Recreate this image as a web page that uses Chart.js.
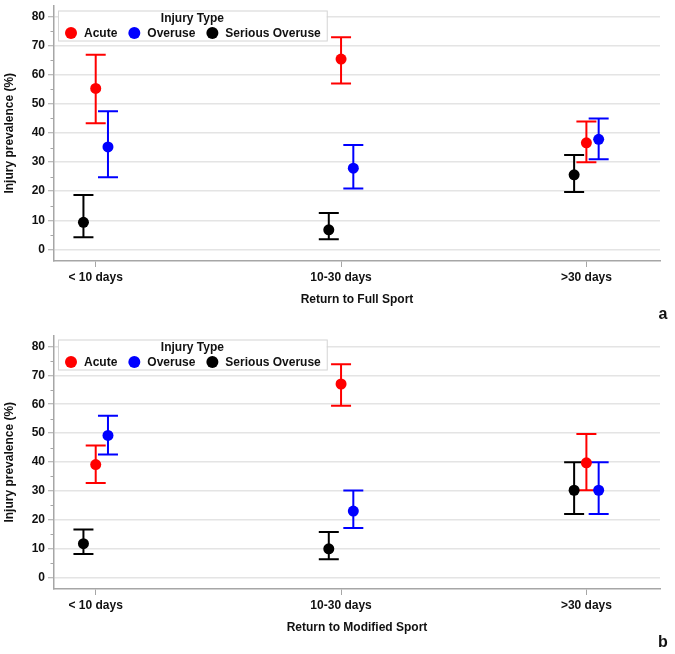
<!DOCTYPE html>
<html>
<head>
<meta charset="utf-8">
<script src="https://cdn.jsdelivr.net/npm/chart.js@4/dist/chart.umd.min.js"></script>
<style>
  html, body { margin: 0; padding: 0; background: #ffffff; }
  #wrap { position: relative; width: 675px; height: 654px; background: #fff; }
  #c1 { position: absolute; left: 0; top: 0; }
  #c2 { position: absolute; left: 0; top: 330px; }
</style>
</head>
<body>
<div id="wrap">
  <canvas id="c1" width="675" height="330"></canvas>
  <canvas id="c2" width="675" height="324"></canvas>
</div>
<script>
// ---------- data ----------
const categories = ['< 10 days', '10-30 days', '>30 days'];
const seriesNames = ['Acute', 'Overuse', 'Serious Overuse'];
const yTickValues = [0, 5, 10, 15, 20, 25, 30, 35, 40, 45, 50, 55, 60, 65, 70, 75, 80];
const panelLabels = ['a', 'b'];
const xTitles = ['Return to Full Sport', 'Return to Modified Sport'];
const yTitle = 'Injury prevalence (%)';
const legendTitle = 'Injury Type';

// Panel a: Return to Full Sport
const fullAcute      = [55.3, 65.4, 36.6];
const fullAcuteLow   = [43.3, 57.0, 29.9];
const fullAcuteHigh  = [66.9, 72.9, 43.9];
const fullOveruse     = [35.2, 27.9, 37.8];
const fullOveruseLow  = [24.8, 20.9, 31.0];
const fullOveruseHigh = [47.5, 35.9, 45.0];
const fullSerious     = [9.3, 6.7, 25.6];
const fullSeriousLow  = [4.2, 3.5, 19.7];
const fullSeriousHigh = [18.7, 12.5, 32.4];

// Panel b: Return to Modified Sport
const modAcute      = [39.1, 67.0, 39.7];
const modAcuteLow   = [32.7, 59.5, 30.2];
const modAcuteHigh  = [45.7, 73.8, 49.7];
const modOveruse     = [49.2, 23.0, 30.2];
const modOveruseLow  = [42.6, 17.1, 22.0];
const modOveruseHigh = [56.0, 30.1, 39.9];
const modSerious     = [11.7, 9.9, 30.2];
const modSeriousLow  = [8.1, 6.3, 22.0];
const modSeriousHigh = [16.6, 15.7, 39.9];

// ---------- styles ----------
const seriesColors = ['#ff0000', '#0000ff', '#000000'];
const seriesOffsets = [0, 0.05, -0.05];
const FONT = '"Liberation Sans", Arial, sans-serif';
const TEXT = '#111111';
const AXIS = '#a6a6a6';
const GRID = '#e4e4e4';

const isMajor = (v) => v % 10 === 0;

const errorBarPlugin = {
  id: 'errorBars',
  beforeDatasetsDraw(chart) {
    const ctx = chart.ctx;
    const xs = chart.scales.x, ys = chart.scales.y;
    ctx.save();
    chart.data.datasets.forEach((ds) => {
      ctx.strokeStyle = ds.borderColor;
      ctx.lineWidth = 2;
      ds.data.forEach((p, i) => {
        const x = xs.getPixelForValue(p.x);
        const yl = ys.getPixelForValue(ds.errLow[i]);
        const yh = ys.getPixelForValue(ds.errHigh[i]);
        ctx.beginPath();
        ctx.moveTo(x, yl); ctx.lineTo(x, yh);
        ctx.moveTo(x - 10, yl); ctx.lineTo(x + 10, yl);
        ctx.moveTo(x - 10, yh); ctx.lineTo(x + 10, yh);
        ctx.stroke();
      });
    });
    ctx.restore();
  }
};

const minorTickPlugin = {
  id: 'minorTicks',
  afterDraw(chart) {
    const ctx = chart.ctx;
    const ys = chart.scales.y;
    const x0 = chart.chartArea.left;
    ctx.save();
    ctx.strokeStyle = AXIS;
    ctx.lineWidth = 1;
    ys.ticks.forEach((t) => {
      if (isMajor(t.value)) return;
      const y = Math.round(ys.getPixelForValue(t.value)) + 0.5;
      ctx.beginPath();
      ctx.moveTo(x0 - 3.5, y);
      ctx.lineTo(x0, y);
      ctx.stroke();
    });
    ctx.restore();
  }
};

const legendBoxPlugin = {
  id: 'legendBox',
  afterDraw(chart, args, opts) {
    const ctx = chart.ctx;
    const area = chart.chartArea;
    ctx.save();
    ctx.font = 'bold 12px ' + FONT;
    const left = area.left + 4;
    const top = area.top + opts.topOffset;
    let x = left + 13;
    const items = [];
    chart.data.datasets.forEach((ds) => {
      const w = ctx.measureText(ds.label).width;
      items.push({ cx: x, tx: x + 13, label: ds.label, color: ds.backgroundColor });
      x += 13 + w + 17;
    });
    const right = x - 17 + 6;
    const h = 30;
    ctx.fillStyle = '#ffffff';
    ctx.fillRect(left, top, right - left, h);
    ctx.strokeStyle = '#d4d4d4';
    ctx.lineWidth = 1;
    ctx.strokeRect(left + 0.5, top + 0.5, right - left, h);
    ctx.fillStyle = TEXT;
    ctx.textAlign = 'center';
    ctx.textBaseline = 'middle';
    ctx.fillText(legendTitle, (left + right) / 2, top + 8);
    ctx.textAlign = 'left';
    items.forEach((it) => {
      ctx.fillStyle = it.color;
      ctx.beginPath();
      ctx.arc(it.cx, top + 22.5, 6, 0, Math.PI * 2);
      ctx.fill();
      ctx.fillStyle = TEXT;
      ctx.fillText(it.label, it.tx, top + 23);
    });
    ctx.font = 'bold 16px ' + FONT;
    ctx.textAlign = 'center';
    ctx.fillStyle = TEXT;
    ctx.fillText(opts.panel, 663, chart.height - opts.panelFromBottom);
    ctx.restore();
  }
};

function makeDatasets(vals, lows, highs) {
  return seriesNames.map((name, s) => ({
    label: name,
    data: vals[s].map((v, i) => ({ x: i + seriesOffsets[s], y: v })),
    errLow: lows[s],
    errHigh: highs[s],
    backgroundColor: seriesColors[s],
    borderColor: seriesColors[s],
    pointRadius: 5.5,
    pointHoverRadius: 5.5,
    borderWidth: 0,
    showLine: false
  }));
}

function makeConfig(datasets, xTitle, panel, padTop, xHeight, xTitlePad, panelFromBottom, legendTop) {
  return {
    type: 'scatter',
    data: { datasets },
    options: {
      responsive: false,
      animation: false,
      devicePixelRatio: 1,
      layout: { padding: { top: padTop, right: 15, left: 0, bottom: 0 } },
      plugins: {
        legend: { display: false },
        tooltip: { enabled: false },
        legendBox: { panel: panel, panelFromBottom: panelFromBottom, topOffset: legendTop }
      },
      scales: {
        x: {
          type: 'linear',
          min: -0.17,
          max: 2.3,
          afterBuildTicks: (s) => { s.ticks = categories.map((c, i) => ({ value: i })); },
          afterFit: (s) => { s.height = xHeight; s.paddingLeft = 0; s.paddingRight = 0; },
          ticks: {
            autoSkip: false,
            maxRotation: 0,
            padding: 3,
            color: TEXT,
            font: { family: FONT, size: 12, weight: 'bold' },
            callback: (v) => categories[v]
          },
          grid: { drawOnChartArea: false, tickLength: 6, tickColor: AXIS, tickWidth: 1 },
          border: { color: AXIS, width: 1.5 },
          title: {
            display: true,
            text: xTitle,
            color: TEXT,
            font: { family: FONT, size: 12, weight: 'bold' },
            padding: { top: 0, bottom: xTitlePad }
          }
        },
        y: {
          min: -4,
          max: 83.8,
          afterBuildTicks: (s) => { s.ticks = yTickValues.map((v) => ({ value: v })); },
          afterFit: (s) => { s.width = 54; s.paddingTop = 0; s.paddingBottom = 0; },
          ticks: {
            autoSkip: false,
            padding: 3,
            color: TEXT,
            font: { family: FONT, size: 12, weight: 'bold' },
            callback: (v) => (isMajor(v) ? String(v) : '')
          },
          grid: {
            color: (c) => (c.tick && isMajor(c.tick.value) ? GRID : 'rgba(0,0,0,0)'),
            lineWidth: 1.5,
            tickLength: 6,
            tickColor: (c) => (c.tick && isMajor(c.tick.value) ? AXIS : 'rgba(0,0,0,0)'),
            tickWidth: 1
          },
          border: { color: AXIS, width: 1.5 },
          title: {
            display: true,
            text: yTitle,
            color: TEXT,
            font: { family: FONT, size: 12, weight: 'bold' },
            padding: { top: 2, bottom: 0 }
          }
        }
      }
    },
    plugins: [errorBarPlugin, minorTickPlugin, legendBoxPlugin]
  };
}

new Chart(document.getElementById('c1'), makeConfig(
  makeDatasets([fullAcute, fullOveruse, fullSerious],
               [fullAcuteLow, fullOveruseLow, fullSeriousLow],
               [fullAcuteHigh, fullOveruseHigh, fullSeriousHigh]),
  xTitles[0], panelLabels[0], 4, 69, 23, 15, 5));

new Chart(document.getElementById('c2'), makeConfig(
  makeDatasets([modAcute, modOveruse, modSerious],
               [modAcuteLow, modOveruseLow, modSeriousLow],
               [modAcuteHigh, modOveruseHigh, modSeriousHigh]),
  xTitles[1], panelLabels[1], 3, 65, 19, 11, 4));
</script>
</body>
</html>
